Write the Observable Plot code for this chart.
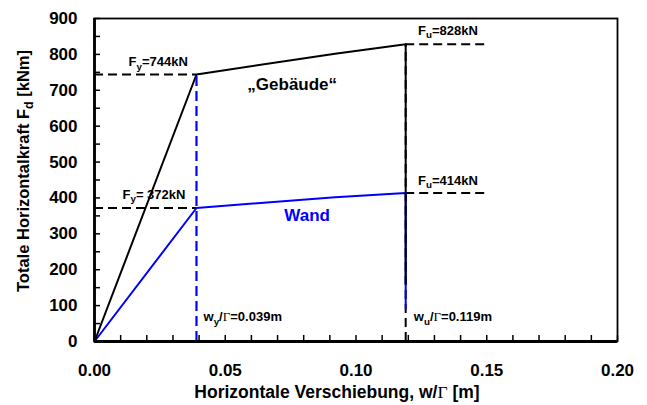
<!DOCTYPE html>
<html>
<head>
<meta charset="utf-8">
<script src="https://cdn.jsdelivr.net/npm/d3@7"></script>
<script src="https://cdn.jsdelivr.net/npm/@observablehq/plot@0.6"></script>
<style>
  html, body { margin: 0; padding: 0; background: #fff; }
</style>
</head>
<body>
<div id="chart"></div>
<script>
// Kapazitätskurven (Verschiebung w/Γ in m, Horizontalkraft in kN)
const gebaeudeX = [0, 0.039, 0.092, 0.119, 0.119];
const gebaeudeY = [0, 744, 802, 828, 161];
const wandX = [0, 0.039, 0.092, 0.119, 0.119];
const wandY = [0, 372, 402, 414, 92];

// Fließ- und Bruchpunkte
const wy = 0.039;
const wu = 0.119;
const fyValues = [744, 372];
const fuValues = [828, 414];
const fuGuideEnd = 0.15;

// Achsen
const xTicks = [0, 0.05, 0.10, 0.15, 0.20];
const xMinor = d3.range(21).map(i => i / 100);
const yTicks = d3.range(0, 901, 100);
const yMinor = d3.range(0, 901, 50);
const xTitle = "Horizontale Verschiebung, w/Γ [m]";
const yTitle = "Totale Horizontalkraft F_d [kNm]";

// Beschriftungen ("_" = tiefgestellt)
const labelText = ["F_y=744kN", "F_u=828kN", "F_y= 372kN", "F_u=414kN", "w_y/Γ=0.039m", "w_u/Γ=0.119m"];
const labelX = [0.013, 0.1237, 0.0107, 0.1237, 0.0417, 0.1221];
const labelY = [779, 866, 409, 448, 69, 69];

const curveNames = ["„Gebäude“", "Wand"];
const curveNameX = [0.0756, 0.0813];
const curveNameY = [715, 352];
const curveColors = ["#000000", "#0000ff"];

const BLUE = "#0000ff";

const chart = Plot.plot({
  width: 647,
  height: 405,
  marginLeft: 94,
  marginRight: 30,
  marginTop: 18,
  marginBottom: 64,
  x: { domain: [0, 0.2] },
  y: { domain: [0, 900] },
  style: { fontFamily: "'Liberation Sans', Arial, sans-serif", fontWeight: "bold", background: "#fff", color: "#000" },
  marks: [
    // Achsbeschriftung und Innenstriche
    Plot.axisX(xTicks, { tickSize: 0, tickPadding: 22, tickFormat: d3.format(".2f"), fontSize: 17, label: null }),
    Plot.axisX(xMinor, { tickSize: -6, strokeWidth: 1.5, tickFormat: () => "", label: null }),
    Plot.axisY(yTicks, { tickSize: 0, tickPadding: 17, tickFormat: d3.format("d"), fontSize: 17, label: null }),
    Plot.axisY(yMinor, { tickSize: -6, strokeWidth: 1.5, tickFormat: () => "", label: null }),

    // Hilfslinien
    Plot.ruleX([wu], { y1: 0, y2: fuValues[0], stroke: "#000", strokeWidth: 2, strokeDasharray: "9,5" }),
    Plot.ruleY(fyValues, { x1: 0, x2: wy, stroke: "#000", strokeWidth: 2, strokeDasharray: "9,5" }),
    Plot.ruleY(fuValues, { x1: wu, x2: fuGuideEnd, stroke: "#000", strokeWidth: 2, strokeDasharray: "9,5" }),

    // Kurven
    Plot.line(wandX, { x: wandX, y: wandY, stroke: BLUE, strokeWidth: 2 }),
    Plot.line(gebaeudeX, { x: gebaeudeX, y: gebaeudeY, stroke: "#000", strokeWidth: 2 }),
    Plot.ruleX([wy], { y1: 0, y2: fyValues[0], stroke: BLUE, strokeWidth: 2.2, strokeDasharray: "10,5" }),

    // Rahmen
    Plot.frame({ stroke: "#000", strokeWidth: 1.8 }),
    Plot.ruleX([0], { stroke: "#000", strokeWidth: 2.8 }),
    Plot.ruleY([0], { stroke: "#000", strokeWidth: 2.8 }),

    // Texte
    Plot.text(labelText, { x: labelX, y: labelY, text: labelText, textAnchor: "start", fontSize: 13, fill: "#000" }),
    Plot.text(curveNames, { x: curveNameX, y: curveNameY, text: curveNames, fontSize: 17, fill: curveColors }),
    Plot.text([xTitle], { frameAnchor: "bottom", textAnchor: "middle", lineAnchor: "middle", dy: 51, dx: -19, fontSize: 17.5, fill: "#000" }),
    Plot.text([yTitle], { frameAnchor: "left", textAnchor: "middle", lineAnchor: "middle", rotate: -90, dx: -71, dy: -9, fontSize: 16.5, fill: "#000" })
  ]
});

document.getElementById("chart").appendChild(chart);

// Tiefgestellte Zeichen und Γ in Serifenschrift setzen
function richText(node) {
  const s = node.textContent;
  if (!/[_Γ]/.test(s)) return;
  const fs = parseFloat(getComputedStyle(node).fontSize) || 13;
  const shift = fs * 0.28;
  const parts = [];
  for (let i = 0; i < s.length; i++) {
    const c = s[i];
    if (c === "_" && i + 1 < s.length) {
      parts.push({ t: s[i + 1], kind: "sub" });
      i++;
    } else if (c === "Γ") {
      parts.push({ t: c, kind: "serif" });
    } else {
      const last = parts[parts.length - 1];
      if (last && last.kind === "plain") last.t += c;
      else parts.push({ t: c, kind: "plain" });
    }
  }
  while (node.firstChild) node.removeChild(node.firstChild);
  let lowered = false;
  for (const p of parts) {
    const ts = document.createElementNS("http://www.w3.org/2000/svg", "tspan");
    ts.textContent = p.t;
    if (p.kind === "sub") {
      ts.setAttribute("font-size", (fs * 0.75).toFixed(1));
      if (!lowered) ts.setAttribute("dy", shift.toFixed(1));
      lowered = true;
    } else {
      if (lowered) ts.setAttribute("dy", (-shift).toFixed(1));
      lowered = false;
      if (p.kind === "serif") {
        ts.setAttribute("font-family", "'Liberation Serif', 'Times New Roman', serif");
        ts.setAttribute("font-weight", "normal");
      }
    }
    node.appendChild(ts);
  }
}
d3.select(chart).selectAll("text").each(function () { richText(this); });
</script>
</body>
</html>
